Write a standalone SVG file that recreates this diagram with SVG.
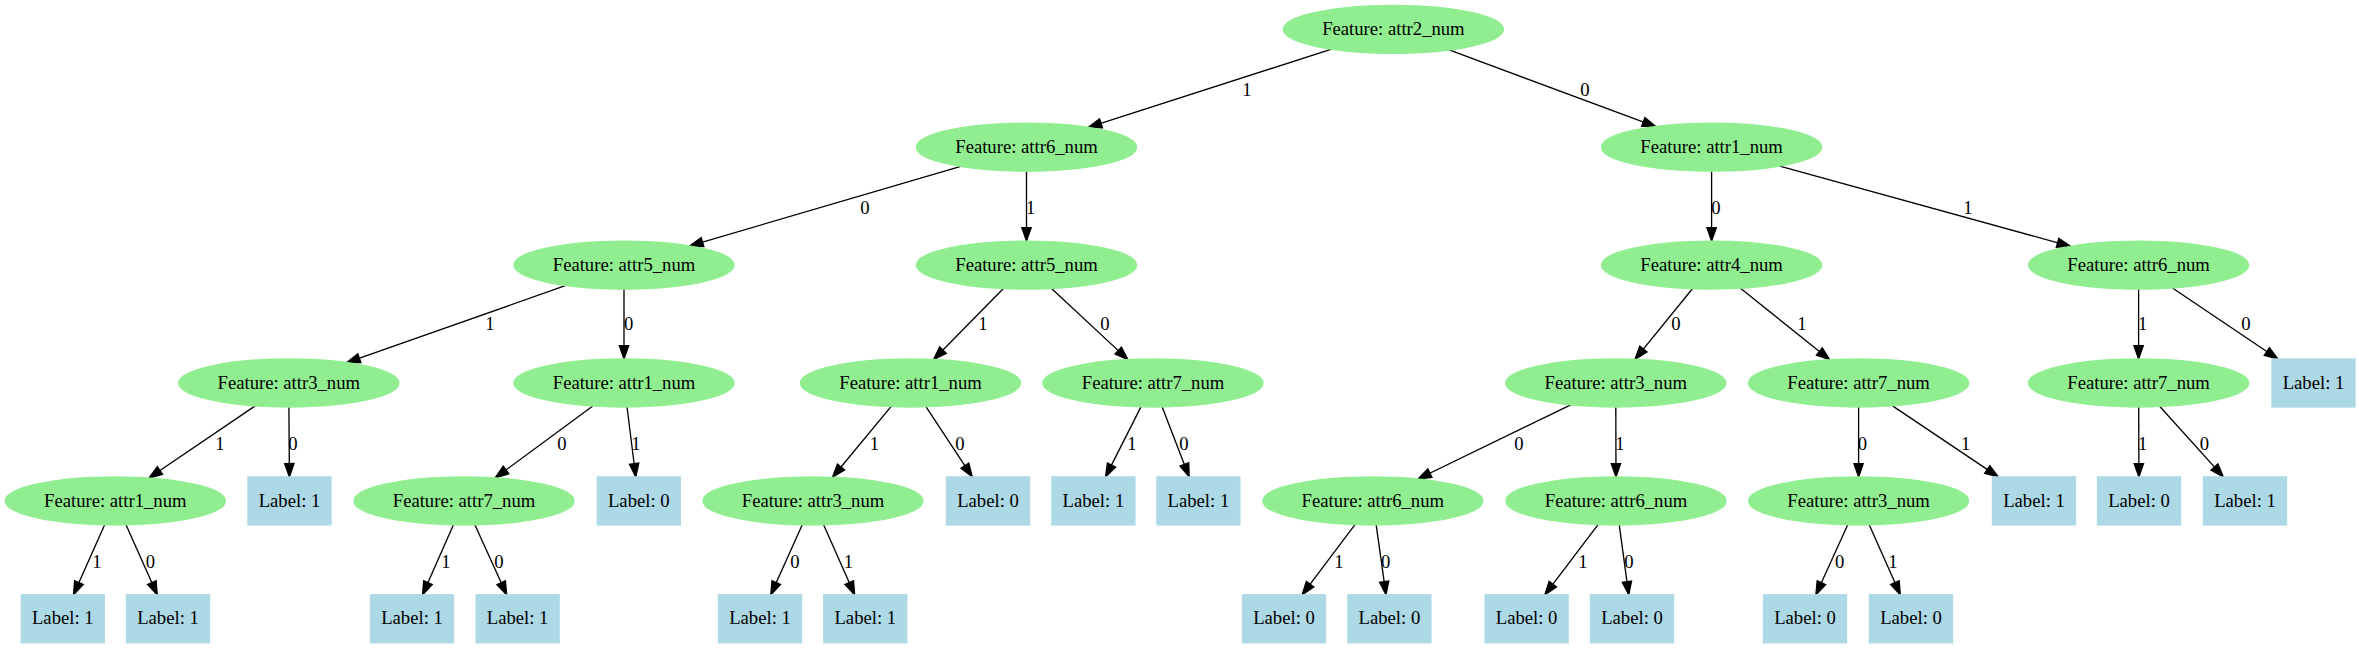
<svg xmlns="http://www.w3.org/2000/svg" width="2359" height="649" viewBox="0 0 2359 649">
<defs>
<style>
.fe ellipse{fill:#90ee90;stroke:#90ee90;stroke-width:1.33}
.fb rect{fill:#add8e6;stroke:#add8e6;stroke-width:1.33}
text{font-family:"Liberation Serif","Times New Roman",serif;font-size:18.67px;text-anchor:middle;fill:#000}
.edges line{stroke:#000;stroke-width:1.33;fill:none;marker-end:url(#arr)}
</style>
<marker id="arr" markerUnits="userSpaceOnUse" markerWidth="14" markerHeight="10" viewBox="0 0 14 10" refX="13.33" refY="4.67" orient="auto" overflow="visible">
<path d="M0,0 L13.33,4.67 L0,9.33 Z" fill="#000" stroke="#000" stroke-width="1.33"/>
</marker>
</defs>
<rect width="2359" height="649" fill="#fff"/>
<g class="edges" id="edges">
<g id="e1"><line x1="1331.6" y1="49.15" x2="1088.29" y2="127.35"/><text x="1247" y="95.5">1</text></g>
<g id="e2"><line x1="1449.2" y1="49.98" x2="1655.78" y2="126.52"/><text x="1585" y="95.5">0</text></g>
<g id="e3"><line x1="960.79" y1="166.45" x2="689.71" y2="245.85"/><text x="865" y="213.5">0</text></g>
<g id="e4"><line x1="1026.5" y1="171.2" x2="1026.5" y2="241.1"/><text x="1030.6" y="213.5">1</text></g>
<g id="e5"><line x1="1711.6" y1="171.2" x2="1711.6" y2="241.1"/><text x="1716" y="213.5">0</text></g>
<g id="e6"><line x1="1779.8" y1="166.03" x2="2070.4" y2="246.27"/><text x="1968" y="213.5">1</text></g>
<g id="e7"><line x1="566.02" y1="285.49" x2="346.78" y2="362.61"/><text x="490" y="329.5">1</text></g>
<g id="e8"><line x1="624" y1="289.1" x2="624" y2="359"/><text x="628.6" y="329.5">0</text></g>
<g id="e9"><line x1="1003.41" y1="288.57" x2="933.59" y2="359.53"/><text x="983" y="329.5">1</text></g>
<g id="e10"><line x1="1051.57" y1="288.47" x2="1127.93" y2="359.63"/><text x="1105" y="329.5">0</text></g>
<g id="e11"><line x1="1692.4" y1="288.73" x2="1635" y2="359.37"/><text x="1676" y="329.5">0</text></g>
<g id="e12"><line x1="1740.47" y1="288.26" x2="1829.73" y2="359.84"/><text x="1802" y="329.5">1</text></g>
<g id="e13"><line x1="2138.6" y1="289.1" x2="2138.6" y2="359"/><text x="2142.7" y="329.5">1</text></g>
<g id="e14"><line x1="2172.47" y1="287.93" x2="2277.9" y2="359"/><text x="2246" y="329.5">0</text></g>
<g id="e15"><line x1="255.17" y1="405.85" x2="148.93" y2="478.05"/><text x="220" y="449.5">1</text></g>
<g id="e16"><line x1="288.9" y1="407" x2="289.4" y2="476.9"/><text x="293" y="449.5">0</text></g>
<g id="e17"><line x1="592.77" y1="406.01" x2="495.23" y2="477.89"/><text x="562" y="449.5">0</text></g>
<g id="e18"><line x1="627.01" y1="406.99" x2="635.79" y2="476.9"/><text x="636" y="449.5">1</text></g>
<g id="e19"><line x1="890.97" y1="406.62" x2="832.53" y2="477.28"/><text x="874.5" y="449.5">1</text></g>
<g id="e20"><line x1="926.12" y1="406.76" x2="972.22" y2="476.9"/><text x="960" y="449.5">0</text></g>
<g id="e21"><line x1="1140.94" y1="406.85" x2="1105.53" y2="476.9"/><text x="1132" y="449.5">1</text></g>
<g id="e22"><line x1="1162.21" y1="406.92" x2="1189.16" y2="476.9"/><text x="1184" y="449.5">0</text></g>
<g id="e23"><line x1="1570.69" y1="404.89" x2="1417.91" y2="479.01"/><text x="1519" y="449.5">0</text></g>
<g id="e24"><line x1="1615.8" y1="407" x2="1616" y2="476.9"/><text x="1620" y="449.5">1</text></g>
<g id="e25"><line x1="1858.6" y1="407" x2="1858.6" y2="476.9"/><text x="1862.5" y="449.5">0</text></g>
<g id="e26"><line x1="1892.56" y1="405.83" x2="1998.3" y2="476.9"/><text x="1965.6" y="449.5">1</text></g>
<g id="e27"><line x1="2138.7" y1="407" x2="2138.9" y2="476.9"/><text x="2142.7" y="449.5">1</text></g>
<g id="e28"><line x1="2159.85" y1="406.55" x2="2223.34" y2="476.9"/><text x="2204.5" y="449.5">0</text></g>
<g id="e29"><line x1="104.66" y1="524.79" x2="73.49" y2="594.8"/><text x="97" y="567.5">1</text></g>
<g id="e30"><line x1="125.98" y1="524.79" x2="157.27" y2="594.8"/><text x="150.5" y="567.5">0</text></g>
<g id="e31"><line x1="453.46" y1="524.8" x2="422.59" y2="594.8"/><text x="446" y="567.5">1</text></g>
<g id="e32"><line x1="474.86" y1="524.78" x2="506.69" y2="594.8"/><text x="499" y="567.5">0</text></g>
<g id="e33"><line x1="802.26" y1="524.78" x2="770.79" y2="594.8"/><text x="795" y="567.5">0</text></g>
<g id="e34"><line x1="823.6" y1="524.79" x2="854.65" y2="594.8"/><text x="848.5" y="567.5">1</text></g>
<g id="e35"><line x1="1354.96" y1="524.58" x2="1302.08" y2="594.8"/><text x="1339" y="567.5">1</text></g>
<g id="e36"><line x1="1376.18" y1="524.89" x2="1386.02" y2="594.8"/><text x="1385.7" y="567.5">0</text></g>
<g id="e37"><line x1="1598.05" y1="524.58" x2="1544.8" y2="594.8"/><text x="1583" y="567.5">1</text></g>
<g id="e38"><line x1="1619.26" y1="524.89" x2="1628.74" y2="594.8"/><text x="1629" y="567.5">0</text></g>
<g id="e39"><line x1="1847.74" y1="524.78" x2="1815.91" y2="594.8"/><text x="1839.6" y="567.5">0</text></g>
<g id="e40"><line x1="1869.22" y1="524.79" x2="1900.33" y2="594.8"/><text x="1893" y="567.5">1</text></g>
</g>
<g id="n0" class="fe"><ellipse cx="1393.4" cy="29.3" rx="110" ry="24"/><text x="1393.4" y="34.9">Feature: attr2_num</text></g>
<g id="n1" class="fe"><ellipse cx="1026.5" cy="147.2" rx="110" ry="24"/><text x="1026.5" y="152.8">Feature: attr6_num</text></g>
<g id="n2" class="fe"><ellipse cx="1711.6" cy="147.2" rx="110" ry="24"/><text x="1711.6" y="152.8">Feature: attr1_num</text></g>
<g id="n3" class="fe"><ellipse cx="624" cy="265.1" rx="110" ry="24"/><text x="624" y="270.7">Feature: attr5_num</text></g>
<g id="n4" class="fe"><ellipse cx="1026.5" cy="265.1" rx="110" ry="24"/><text x="1026.5" y="270.7">Feature: attr5_num</text></g>
<g id="n5" class="fe"><ellipse cx="1711.6" cy="265.1" rx="110" ry="24"/><text x="1711.6" y="270.7">Feature: attr4_num</text></g>
<g id="n6" class="fe"><ellipse cx="2138.6" cy="265.1" rx="110" ry="24"/><text x="2138.6" y="270.7">Feature: attr6_num</text></g>
<g id="n7" class="fe"><ellipse cx="288.8" cy="383" rx="110" ry="24"/><text x="288.8" y="388.6">Feature: attr3_num</text></g>
<g id="n8" class="fe"><ellipse cx="624" cy="383" rx="110" ry="24"/><text x="624" y="388.6">Feature: attr1_num</text></g>
<g id="n9" class="fe"><ellipse cx="910.5" cy="383" rx="110" ry="24"/><text x="910.5" y="388.6">Feature: attr1_num</text></g>
<g id="n10" class="fe"><ellipse cx="1153" cy="383" rx="110" ry="24"/><text x="1153" y="388.6">Feature: attr7_num</text></g>
<g id="n11" class="fe"><ellipse cx="1615.8" cy="383" rx="110" ry="24"/><text x="1615.8" y="388.6">Feature: attr3_num</text></g>
<g id="n12" class="fe"><ellipse cx="1858.6" cy="383" rx="110" ry="24"/><text x="1858.6" y="388.6">Feature: attr7_num</text></g>
<g id="n13" class="fe"><ellipse cx="2138.6" cy="383" rx="110" ry="24"/><text x="2138.6" y="388.6">Feature: attr7_num</text></g>
<g id="n14" class="fb"><rect x="2272" y="359" width="83" height="48"/><text x="2313.5" y="388.6">Label: 1</text></g>
<g id="n15" class="fe"><ellipse cx="115.3" cy="500.9" rx="110" ry="24"/><text x="115.3" y="506.5">Feature: attr1_num</text></g>
<g id="n16" class="fb"><rect x="248" y="476.9" width="83" height="48"/><text x="289.5" y="506.5">Label: 1</text></g>
<g id="n17" class="fe"><ellipse cx="464" cy="500.9" rx="110" ry="24"/><text x="464" y="506.5">Feature: attr7_num</text></g>
<g id="n18" class="fb"><rect x="597.3" y="476.9" width="83" height="48"/><text x="638.8" y="506.5">Label: 0</text></g>
<g id="n19" class="fe"><ellipse cx="813" cy="500.9" rx="110" ry="24"/><text x="813" y="506.5">Feature: attr3_num</text></g>
<g id="n20" class="fb"><rect x="946.5" y="476.9" width="83" height="48"/><text x="988" y="506.5">Label: 0</text></g>
<g id="n21" class="fb"><rect x="1051.9" y="476.9" width="83" height="48"/><text x="1093.4" y="506.5">Label: 1</text></g>
<g id="n22" class="fb"><rect x="1156.9" y="476.9" width="83" height="48"/><text x="1198.4" y="506.5">Label: 1</text></g>
<g id="n23" class="fe"><ellipse cx="1372.8" cy="500.9" rx="110" ry="24"/><text x="1372.8" y="506.5">Feature: attr6_num</text></g>
<g id="n24" class="fe"><ellipse cx="1616" cy="500.9" rx="110" ry="24"/><text x="1616" y="506.5">Feature: attr6_num</text></g>
<g id="n25" class="fe"><ellipse cx="1858.6" cy="500.9" rx="110" ry="24"/><text x="1858.6" y="506.5">Feature: attr3_num</text></g>
<g id="n26" class="fb"><rect x="1992.5" y="476.9" width="83" height="48"/><text x="2034" y="506.5">Label: 1</text></g>
<g id="n27" class="fb"><rect x="2097.5" y="476.9" width="83" height="48"/><text x="2139" y="506.5">Label: 0</text></g>
<g id="n28" class="fb"><rect x="2203.5" y="476.9" width="83" height="48"/><text x="2245" y="506.5">Label: 1</text></g>
<g id="n29" class="fb"><rect x="21.3" y="594.8" width="83" height="48"/><text x="62.8" y="624.4">Label: 1</text></g>
<g id="n30" class="fb"><rect x="126.5" y="594.8" width="83" height="48"/><text x="168" y="624.4">Label: 1</text></g>
<g id="n31" class="fb"><rect x="370.5" y="594.8" width="83" height="48"/><text x="412" y="624.4">Label: 1</text></g>
<g id="n32" class="fb"><rect x="476.1" y="594.8" width="83" height="48"/><text x="517.6" y="624.4">Label: 1</text></g>
<g id="n33" class="fb"><rect x="718.5" y="594.8" width="83" height="48"/><text x="760" y="624.4">Label: 1</text></g>
<g id="n34" class="fb"><rect x="823.8" y="594.8" width="83" height="48"/><text x="865.3" y="624.4">Label: 1</text></g>
<g id="n35" class="fb"><rect x="1242.5" y="594.8" width="83" height="48"/><text x="1284" y="624.4">Label: 0</text></g>
<g id="n36" class="fb"><rect x="1347.9" y="594.8" width="83" height="48"/><text x="1389.4" y="624.4">Label: 0</text></g>
<g id="n37" class="fb"><rect x="1485.1" y="594.8" width="83" height="48"/><text x="1526.6" y="624.4">Label: 0</text></g>
<g id="n38" class="fb"><rect x="1590.5" y="594.8" width="83" height="48"/><text x="1632" y="624.4">Label: 0</text></g>
<g id="n39" class="fb"><rect x="1763.5" y="594.8" width="83" height="48"/><text x="1805" y="624.4">Label: 0</text></g>
<g id="n40" class="fb"><rect x="1869.5" y="594.8" width="83" height="48"/><text x="1911" y="624.4">Label: 0</text></g>
</svg>
